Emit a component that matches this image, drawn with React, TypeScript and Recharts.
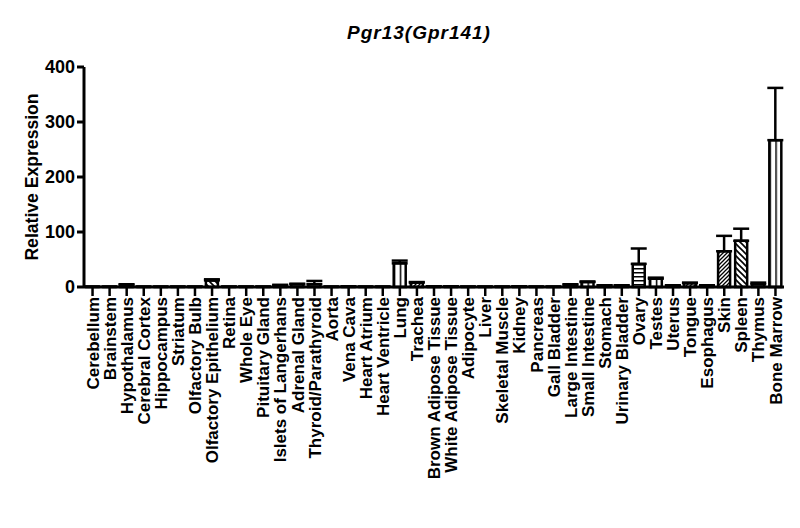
import { Bar, BarChart, Cell, ErrorBar, XAxis, YAxis } from "recharts";

const tissues = [
  "Cerebellum", "Brainstem", "Hypothalamus", "Cerebral Cortex", "Hippocampus",
  "Striatum", "Olfactory Bulb", "Olfactory Epithelium", "Retina", "Whole Eye",
  "Pituitary Gland", "Islets of Langerhans", "Adrenal Gland", "Thyroid/Parathyroid", "Aorta",
  "Vena Cava", "Heart Atrium", "Heart Ventricle", "Lung", "Trachea",
  "Brown Adipose Tissue", "White Adipose Tissue", "Adipocyte", "Liver", "Skeletal Muscle",
  "Kidney", "Pancreas", "Gall Bladder", "Large Intestine", "Small Intestine",
  "Stomach", "Urinary Bladder", "Ovary", "Testes", "Uterus",
  "Tongue", "Esophagus", "Skin", "Spleen", "Thymus", "Bone Marrow",
];

const expression = [
  0.5, 0.5, 4, 0.5, 0.5,
  0.5, 0.5, 12, 0.5, 0.5,
  0.5, 3, 5, 5, 0.5,
  1, 0.5, 0.5, 43, 8,
  1, 1, 0.5, 0.5, 0.5,
  1, 0.5, 0.5, 4, 9,
  3, 3, 42, 15, 3,
  7, 3, 65, 84, 5, 267,
];

const sem = [
  0, 0, 1, 0, 0,
  0, 0, 2, 0, 0,
  0, 1, 1, 6, 0,
  0, 0, 0, 5, 1,
  0, 0, 0, 0, 0,
  0, 0, 0, 1, 1,
  0, 0, 28, 2, 0,
  1, 0, 28, 22, 3, 95,
];

const yTicks = [0, 100, 200, 300, 400];

const data = tissues.map((name, i) => ({ name, value: expression[i], err: [0, sem[i]] }));

const FONT = '"Liberation Sans", Arial, sans-serif';

// GraphPad-style fill patterns per tissue group
const patternFor: Record<string, string> = {
  "Olfactory Epithelium": "url(#back)",
  Lung: "url(#vlines)",
  Trachea: "url(#fwd)",
  "Small Intestine": "url(#vlines)",
  Ovary: "url(#hlines)",
  Testes: "url(#vlines)",
  Tongue: "url(#fwd)",
  Skin: "url(#fwd)",
  Spleen: "url(#back)",
  "Bone Marrow": "url(#vlines)",
};

function TissueTick({ x, y, payload }: any) {
  return (
    <text
      x={x}
      y={y}
      dy="0.36em"
      transform={`rotate(-90 ${x} ${y})`}
      textAnchor="end"
      fontFamily={FONT}
      fontWeight="bold"
      fontSize={17}
      fill="#000"
    >
      {payload.value}
    </text>
  );
}

function YTitle() {
  return (
    <text
      x={32}
      y={177}
      dy="0.36em"
      transform="rotate(-90 32 177)"
      textAnchor="middle"
      fontFamily={FONT}
      fontWeight="bold"
      fontSize={17.6}
      fill="#000"
    >
      Relative Expression
    </text>
  );
}

export default function App() {
  return (
    <div style={{ position: "absolute", left: 0, top: 0, width: 800, height: 528, background: "#fff" }}>
      <div
        style={{
          position: "absolute",
          left: 347,
          top: 22,
          fontFamily: FONT,
          fontWeight: "bold",
          fontStyle: "italic",
          fontSize: 19,
          letterSpacing: 1,
          color: "#000",
        }}
      >
        Pgr13(Gpr141)
      </div>
      <BarChart
        width={800}
        height={528}
        data={data}
        margin={{ top: 67, right: 16, bottom: 0, left: 16 }}
        barCategoryGap="14%"
      >
        <defs>
          <pattern id="vlines" patternUnits="objectBoundingBox" width={0.5} height={1}>
            <rect x={0} y={0} width={200} height={400} fill="#fff" />
            <line x1={0} y1={0} x2={0} y2={400} stroke="#000" strokeWidth={3} />
          </pattern>
          <pattern id="hlines" patternUnits="userSpaceOnUse" width={8} height={4}>
            <rect x={0} y={0} width={8} height={4} fill="#fff" />
            <line x1={0} y1={0.75} x2={8} y2={0.75} stroke="#000" strokeWidth={1.5} />
          </pattern>
          <pattern id="fwd" patternUnits="userSpaceOnUse" width={4} height={4}>
            <rect x={0} y={0} width={4} height={4} fill="#fff" />
            <path d="M-1,1 l2,-2 M0,4 l4,-4 M3,5 l2,-2" stroke="#000" strokeWidth={1.3} />
          </pattern>
          <pattern id="back" patternUnits="userSpaceOnUse" width={6} height={6}>
            <rect x={0} y={0} width={6} height={6} fill="#fff" />
            <path d="M-1,5 l2,2 M0,0 l6,6 M5,-1 l2,2" stroke="#000" strokeWidth={1.6} />
          </pattern>
        </defs>
        <XAxis
          dataKey="name"
          interval={0}
          height={241}
          tick={<TissueTick />}
          tickSize={9}
          tickMargin={1}
          tickLine={{ stroke: "#000", strokeWidth: 2.5 }}
          axisLine={{ stroke: "#000", strokeWidth: 3 }}
        />
        <YAxis
          width={68}
          domain={[0, 400]}
          ticks={yTicks}
          interval={0}
          tickSize={7}
          tickMargin={2}
          tick={{ fontFamily: FONT, fontWeight: "bold", fontSize: 18, fill: "#000" }}
          tickLine={{ stroke: "#000", strokeWidth: 3 }}
          axisLine={{ stroke: "#000", strokeWidth: 3 }}
          label={<YTitle />}
        />
        <Bar dataKey="value" fill="#fff" stroke="#000" strokeWidth={2.5} isAnimationActive={false}>
          {data.map((d) => (
            <Cell key={d.name} fill={patternFor[d.name] ?? "#fff"} />
          ))}
          <ErrorBar dataKey="err" direction="y" width={8} stroke="#000" strokeWidth={2.5} />
        </Bar>
      </BarChart>
    </div>
  );
}
